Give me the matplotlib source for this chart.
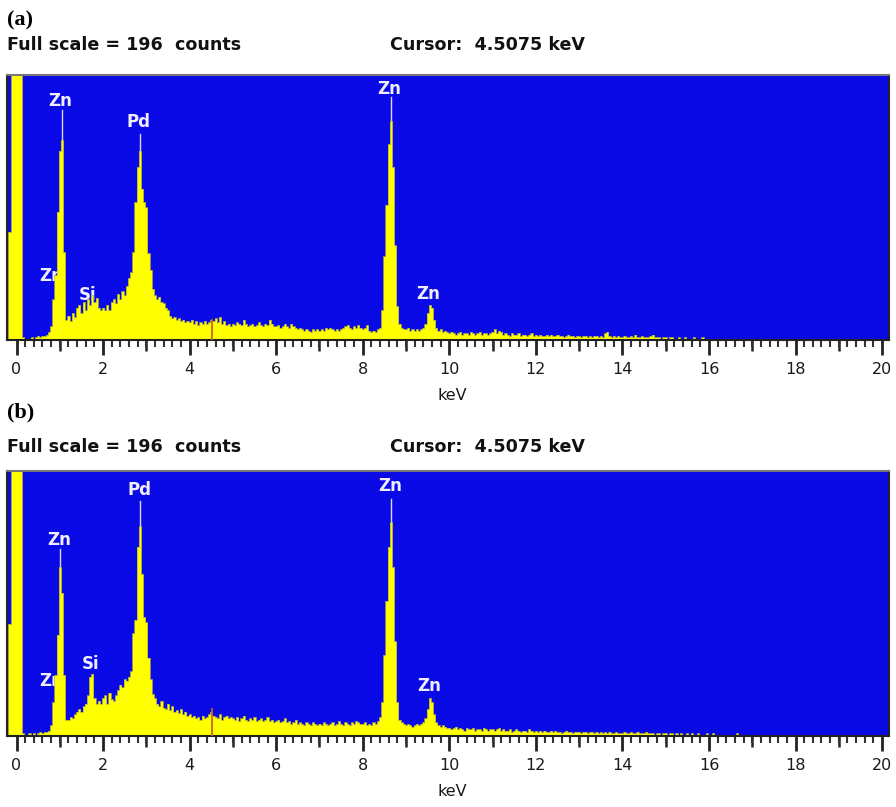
import numpy as np
import matplotlib
matplotlib.use("Agg")
import matplotlib.pyplot as plt

# ---------------- data ----------------
full_scale = 196
cursor_kev = 4.5075
e_start = -0.2      # keV, centre of first channel
e_step = 0.05       # keV per channel

# panel (a) counts per channel, one row per keV
counts_a = (
    [80, 80, 250, 250] +                                                          # -0.2 .. -0.05
    [250, 250, 250, 2, 1, 1, 1, 2, 1, 2, 3, 2, 3, 3, 4, 6, 10, 30, 48, 95] +       # 0
    [140, 148, 65, 15, 18, 14, 20, 17, 24, 26, 20, 28, 22, 30, 26, 33, 28, 31, 24, 22] +  # 1
    [24, 22, 26, 22, 28, 30, 27, 34, 30, 36, 33, 40, 46, 50, 65, 102, 128, 140, 112, 102] +  # 2
    [98, 64, 52, 38, 33, 30, 32, 28, 27, 24, 22, 18, 16, 17, 15, 16, 14, 15, 13, 14] +  # 3
    [13, 15, 12, 14, 11, 13, 12, 14, 12, 13, 15, 14, 16, 13, 17, 12, 14, 11, 12, 10] +  # 4
    [12, 11, 13, 12, 11, 15, 12, 10, 11, 12, 10, 11, 13, 11, 10, 12, 11, 15, 12, 10] +  # 5
    [10, 11, 9, 10, 12, 10, 9, 12, 10, 9, 8, 9, 8, 7, 8, 7, 6, 8, 7, 8] +              # 6
    [7, 8, 7, 9, 8, 9, 8, 7, 8, 7, 8, 9, 10, 11, 9, 8, 10, 9, 11, 9] +                 # 7
    [8, 9, 11, 7, 6, 7, 6, 8, 9, 22, 62, 100, 145, 162, 128, 70, 25, 12, 9, 8] +       # 8
    [8, 9, 7, 8, 7, 8, 7, 8, 9, 12, 20, 26, 24, 15, 9, 7, 8, 6, 7, 6] +                # 9
    [5, 6, 5, 4, 5, 6, 4, 5, 5, 4, 6, 5, 4, 5, 6, 4, 5, 5, 4, 5] +                     # 10
    [6, 8, 5, 7, 6, 4, 5, 4, 3, 5, 4, 4, 5, 3, 4, 4, 3, 4, 5, 3] +                     # 11
    [4, 3, 4, 3, 3, 4, 3, 4, 3, 3, 4, 3, 3, 2, 3, 4, 3, 3, 2, 3] +                     # 12
    [3, 2, 3, 3, 2, 3, 2, 3, 3, 2, 3, 2, 5, 6, 3, 2, 3, 2, 3, 2] +                     # 13
    [2, 3, 2, 2, 3, 2, 4, 2, 2, 3, 2, 2, 2, 3, 4, 2, 2, 2, 1, 2] +                     # 14
    [2, 1, 2, 2, 1, 1, 2, 1, 1, 2, 1, 1, 1, 2, 1, 1, 1, 2, 1, 1] +                     # 15
    [1, 1, 1, 0, 1, 1, 0, 1, 1, 0, 1, 0, 1, 1, 0, 0, 1, 0, 1, 0] +                     # 16
    [1, 0, 0, 1, 0, 0, 0, 1, 0, 0, 0, 0, 1, 0, 0, 0, 0, 0, 0, 0] +                     # 17
    [0, 0, 0, 0, 0, 0, 0, 0, 0, 0, 0, 0, 0, 0, 0, 0, 0, 0, 0, 0] +                     # 18
    [0, 0, 0, 0, 0, 0, 0, 0, 0, 0, 0, 0, 0, 0, 0, 0, 0, 0, 0, 0]                       # 19
)

# panel (b) counts per channel
counts_b = (
    [83, 83, 250, 250] +
    [250, 250, 250, 2, 1, 1, 2, 1, 2, 1, 2, 3, 2, 3, 3, 4, 8, 25, 45, 75] +           # 0
    [125, 106, 45, 12, 12, 14, 13, 16, 18, 20, 18, 22, 24, 30, 44, 46, 28, 24, 26, 24] +  # 1
    [28, 30, 24, 32, 27, 26, 30, 34, 38, 36, 42, 41, 44, 48, 76, 86, 140, 155, 120, 88] +  # 2
    [84, 58, 42, 31, 28, 24, 22, 26, 21, 20, 24, 19, 22, 18, 19, 17, 20, 16, 18, 15] +  # 3
    [16, 14, 15, 13, 14, 12, 15, 13, 14, 16, 18, 15, 14, 13, 16, 12, 14, 15, 13, 14] +  # 4
    [13, 12, 14, 11, 13, 15, 12, 11, 13, 12, 14, 11, 12, 13, 11, 12, 14, 11, 12, 10] +  # 5
    [11, 12, 10, 11, 13, 10, 11, 9, 10, 12, 9, 10, 9, 8, 10, 9, 8, 10, 9, 8] +         # 6
    [9, 8, 10, 9, 8, 9, 10, 8, 9, 11, 9, 8, 10, 9, 8, 10, 9, 11, 10, 9] +              # 7
    [9, 10, 8, 9, 8, 10, 9, 11, 14, 25, 60, 100, 140, 158, 125, 70, 25, 12, 10, 9] +   # 8
    [8, 9, 8, 7, 8, 9, 8, 9, 10, 13, 20, 28, 25, 16, 10, 8, 7, 8, 7, 6] +              # 9
    [6, 5, 6, 7, 5, 6, 5, 4, 6, 5, 5, 6, 4, 5, 5, 4, 6, 5, 4, 5] +                     # 10
    [5, 4, 5, 6, 4, 5, 4, 4, 5, 3, 4, 5, 4, 3, 4, 4, 3, 5, 4, 3] +                     # 11
    [4, 3, 4, 3, 4, 3, 3, 4, 3, 4, 3, 3, 2, 3, 4, 3, 3, 2, 3, 3] +                     # 12
    [3, 2, 3, 3, 2, 3, 3, 2, 3, 2, 3, 2, 3, 2, 3, 2, 2, 3, 2, 2] +                     # 13
    [2, 3, 2, 2, 3, 2, 2, 3, 2, 2, 2, 3, 2, 2, 2, 1, 2, 2, 1, 2] +                     # 14
    [2, 1, 2, 2, 1, 2, 1, 2, 1, 1, 2, 1, 2, 1, 1, 2, 1, 1, 1, 2] +                     # 15
    [1, 1, 2, 1, 1, 1, 0, 1, 1, 1, 0, 1, 1, 2, 1, 0, 1, 1, 0, 1] +                     # 16
    [1, 0, 1, 0, 1, 0, 0, 1, 0, 0, 1, 0, 0, 0, 1, 0, 0, 0, 0, 0] +                     # 17
    [0, 0, 0, 0, 0, 0, 0, 0, 0, 0, 0, 0, 0, 0, 0, 0, 0, 0, 0, 0] +                     # 18
    [0, 0, 0, 0, 0, 0, 0, 0, 0, 0, 0, 0, 0, 0, 0, 0, 0, 0, 0, 0]                       # 19
)

# peak marker lines: energy (keV), top (counts)
markers_a = [(1.04, 170), (2.85, 152), (8.66, 180)]
markers_b = [(1.00, 138), (2.85, 174), (8.66, 175)]

# peak labels: text, energy (keV), counts
labels_a = [("Zn", 1.00, 177), ("Zn", 0.80, 47), ("Si", 1.65, 33),
            ("Pd", 2.83, 161), ("Zn", 8.61, 186), ("Zn", 9.51, 34)]
labels_b = [("Zn", 0.98, 145), ("Zn", 0.80, 41), ("Si", 1.72, 53),
            ("Pd", 2.84, 182), ("Zn", 8.63, 185), ("Zn", 9.53, 37)]

cursor_level_a = 15
cursor_level_b = 20

major_ticks = list(range(0, 21, 2))
mid_ticks = list(range(1, 20, 2))

# ---------------- figure ----------------
W, H = 896, 807
fig = plt.figure(figsize=(W / 100, H / 100), dpi=100)
fig.patch.set_facecolor("white")

BLUE = "#0a0ae6"
YELLOW = "#ffff00"


def fx(px):
    return px / W


def fy(py):
    return 1 - py / H


def panel(top_px, bot_px, counts, markers, labels, cursor_level):
    ax = fig.add_axes([fx(7), fy(bot_px), fx(889 - 7), (bot_px - top_px) / H])
    ax.set_facecolor(BLUE)
    energy = e_start + e_step * np.arange(len(counts))
    c = np.array(counts, dtype=float)
    for e, top in markers:
        ax.plot([e, e], [0, top], color="#d8d8e8", lw=1.0, zorder=1)
    for txt, e, y in labels:
        ax.text(e, y, txt, color="#eeeeff", fontsize=12, fontweight="bold",
                ha="center", va="center", family="DejaVu Sans", zorder=1.5)
    ax.fill_between(energy, 0, c, step="mid", color=YELLOW, lw=0, zorder=2)
    ax.step(energy, c, where="mid", color="#b8b830", lw=0.5, zorder=2.1)
    ax.plot([cursor_kev, cursor_kev], [0, cursor_level], color="#c86414",
            lw=1.3, zorder=3)
    ax.set_xlim(-0.22, 20.16)
    ax.set_ylim(0, full_scale)
    ax.set_yticks([])
    ax.set_xticks(major_ticks)
    ax.set_xticklabels([str(t) for t in major_ticks])
    ax.set_xticks(np.arange(0, 20.01, 0.2), minor=True)
    ax.tick_params(axis="x", which="major", direction="out", length=11, width=2,
                   color="#222222", labelsize=11.5, pad=5, labelcolor="#1a1a1a")
    ax.tick_params(axis="x", which="minor", direction="out", length=5, width=1.5,
                   color="#333333")
    sec = ax.secondary_xaxis("bottom")
    sec.set_xticks(mid_ticks)
    sec.set_xticklabels([])
    sec.tick_params(direction="out", length=8, width=1.8, color="#222222")
    sec.spines["bottom"].set_visible(False)
    for s in ax.spines.values():
        s.set_color("#222222")
        s.set_linewidth(1.5)
    ax.spines["top"].set_color("#777777")
    return ax


panel(75, 340, counts_a, markers_a, labels_a, cursor_level_a)
panel(471, 736, counts_b, markers_b, labels_b, cursor_level_b)

hdr = dict(fontsize=12.6, fontweight="bold", family="DejaVu Sans", va="center",
           color="#111111")
for tag, y_tag, y_hdr, y_kev in [("(a)", 20, 45, 395), ("(b)", 412, 447, 792)]:
    fig.text(fx(7), fy(y_tag), tag, fontsize=16, fontweight="bold",
             family="Liberation Serif", va="center", ha="left")
    fig.text(fx(7), fy(y_hdr), "Full scale = %d  counts" % full_scale, ha="left", **hdr)
    fig.text(fx(390), fy(y_hdr), "Cursor:  %.4f keV" % cursor_kev, ha="left", **hdr)
    fig.text(fx(452), fy(y_kev), "keV", fontsize=11.5, family="DejaVu Sans",
             ha="center", va="center", color="#1a1a1a")

fig.savefig("out.png", dpi=100)
